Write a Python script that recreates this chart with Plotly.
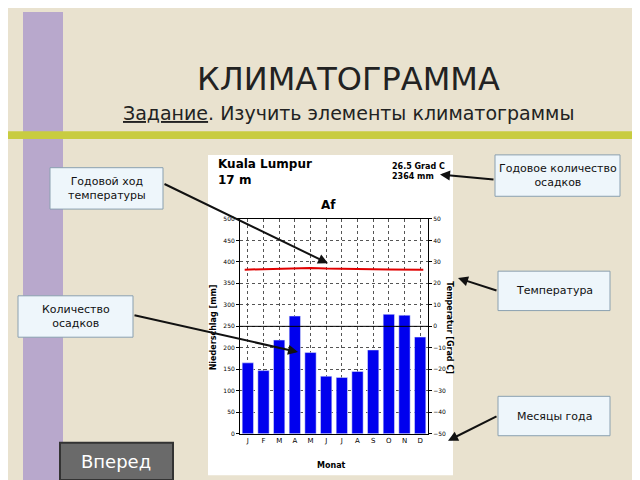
import plotly.graph_objects as go

# Climate data, Kuala Lumpur
months = ["J", "F", "M", "A", "M", "J", "J", "A", "S", "O", "N", "D"]
precip = [165, 147, 218, 274, 189, 134, 131, 145, 195, 278, 276, 225]
temp = [26.4, 26.6, 26.9, 27.1, 27.2, 26.9, 26.7, 26.7, 26.6, 26.5, 26.4, 26.3]
left_ticks = [0, 50, 100, 150, 200, 250, 300, 350, 400, 450, 500]
right_ticks = [-50, -40, -30, -20, -10, 0, 10, 20, 30, 40, 50]

W, H = 640, 480
def px(x): return x / W
def py(y): return 1 - y / H

xs = list(range(1, 13))
fig = go.Figure()
fig.add_bar(x=xs, y=precip, marker_color="#0000ee", width=0.72, yaxis="y")
fig.add_scatter(x=[0.8] + xs[1:-1] + [12.2], y=temp, mode="lines",
                line=dict(color="#e00000", width=2), yaxis="y2")

shapes = [
    dict(type="rect", xref="paper", yref="paper", x0=px(15), x1=px(55), y0=0, y1=1,
         fillcolor="#b8a8cc", line=dict(width=0), layer="below"),
    dict(type="rect", xref="paper", yref="paper", x0=px(0), x1=px(640), y0=py(129), y1=py(121),
         fillcolor="#c8cc40", line=dict(width=0), layer="below"),
    dict(type="rect", xref="paper", yref="paper", x0=px(200), x1=px(445), y0=py(470), y1=py(145),
         fillcolor="white", line=dict(width=0), layer="below"),
    dict(type="line", xref="x", yref="y", x0=0.5, x1=12.5, y0=250, y1=250,
         line=dict(color="black", width=1)),
]

boxes = [
    (42, 158, 155, 200, "Годовой ход<br>температуры"),
    (487, 145, 612, 187, "Годовое количество<br>осадков"),
    (490, 263, 602, 303, "Температура"),
    (10, 288, 125, 330, "Количество<br>осадков"),
    (490, 390, 602, 430, "Месяцы года"),
]
for x0, y0, x1, y1, t in boxes:
    shapes.append(dict(type="rect", xref="paper", yref="paper", x0=px(x0), x1=px(x1),
                       y0=py(y1), y1=py(y0), fillcolor="#eef6fb",
                       line=dict(color="#8aa0b0", width=1)))

anns = [
    dict(x=px(340), y=py(68), text="КЛИМАТОГРАММА", font=dict(size=32, color="#222")),
    dict(x=px(340), y=py(102), text="<u>Задание</u>. Изучить элементы климатограммы",
         font=dict(size=19, color="#222")),
    dict(x=px(208), y=py(162), text="<b>Kuala Lumpur<br>17 m</b>", xanchor="left",
         align="left", font=dict(size=12, color="black")),
    dict(x=px(382), y=py(162), text="<b>26.5 Grad C<br>2364 mm</b>", xanchor="left",
         align="left", font=dict(size=8, color="black")),
    dict(x=px(320), y=py(196), text="<b>Af</b>", font=dict(size=12, color="black")),
    dict(x=px(205), y=py(320), text="<b>Niederschlag [mm]</b>", textangle=-90,
         font=dict(size=8, color="black")),
    dict(x=px(442), y=py(320), text="<b>Temperatur [Grad C]</b>", textangle=90,
         font=dict(size=8, color="black")),
    dict(x=px(323), y=py(460), text="<b>Monat</b>", font=dict(size=8, color="black")),
]
for x0, y0, x1, y1, t in boxes:
    anns.append(dict(x=px((x0 + x1) / 2), y=py((y0 + y1) / 2), text=t,
                     font=dict(size=11, color="#111")))
arrows = [((155, 175), (320, 255)), ((487, 170), (432, 165)), ((490, 283), (450, 270)),
          ((125, 308), (290, 345)), ((490, 410), (440, 435))]
for (ax, ay), (x, y) in arrows:
    anns.append(dict(x=px(x), y=py(y), ax=ax - x, ay=ay - y,
                     text="", showarrow=True, arrowhead=2, arrowwidth=2, arrowcolor="#111"))

# "Вперед" button
shapes.append(dict(type="rect", xref="paper", yref="paper", x0=px(52), x1=px(165),
                   y0=py(475), y1=py(437), fillcolor="#6a6a6a",
                   line=dict(color="#333", width=2)))
anns.append(dict(x=px(108), y=py(456), text="Вперед", font=dict(size=18, color="white")))

for a in anns:
    a.setdefault("xref", "paper")
    a.setdefault("yref", "paper")
    a.setdefault("showarrow", False)
    a.setdefault("xanchor", "center")
    a.setdefault("yanchor", "middle")

fig.update_layout(
    width=W, height=H, margin=dict(l=0, r=0, t=0, b=0),
    paper_bgcolor="#e9e2cf", plot_bgcolor="white", showlegend=False,
    font=dict(family="DejaVu Sans"),
    xaxis=dict(domain=[px(232), px(420)], range=[0.5, 12.5], tickvals=xs, ticktext=months,
               showgrid=True, gridcolor="#555", griddash="dot", zeroline=False,
               tickfont=dict(size=7, color="black"), showline=True, linecolor="black",
               mirror=True),
    yaxis=dict(domain=[py(428), py(210)], range=[0, 500], tickvals=left_ticks,
               showgrid=True, gridcolor="#555", griddash="dot", zeroline=False,
               tickfont=dict(size=6, color="black"), ticks="outside", ticklen=3,
               tickcolor="black", showline=True, linecolor="black"),
    yaxis2=dict(overlaying="y", side="right", range=[-50, 50], tickvals=right_ticks,
                showgrid=False, zeroline=False, tickfont=dict(size=6, color="black"),
                ticks="outside", ticklen=3, tickcolor="black", showline=True,
                linecolor="black"),
    shapes=shapes, annotations=anns,
)
fig.write_html("out.html")
